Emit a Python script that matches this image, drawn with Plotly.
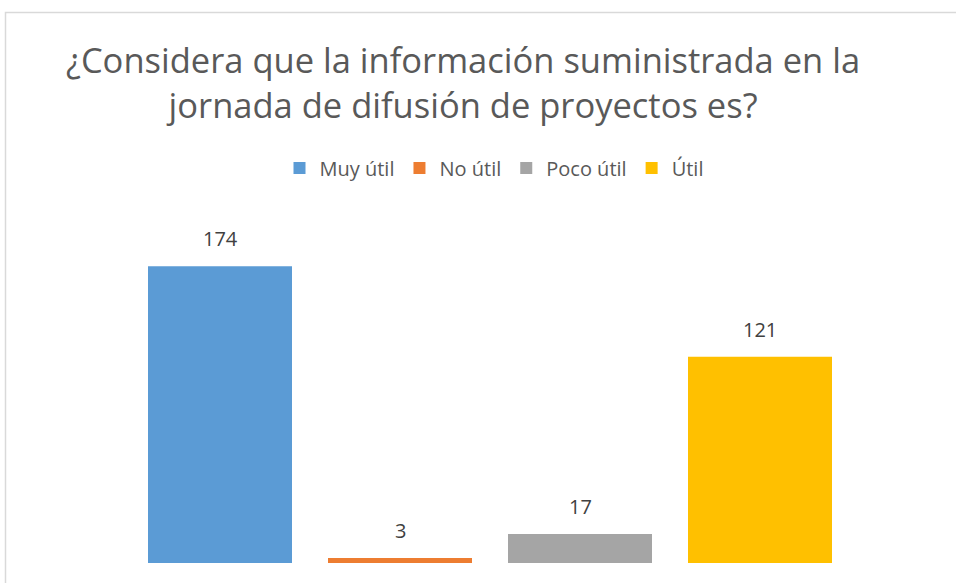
import plotly.graph_objects as go

categories = ["Muy útil", "No útil", "Poco útil", "Útil"]
values = [174, 3, 17, 121]
colors = ["#5B9BD5", "#ED7D31", "#A5A5A5", "#FFC000"]
title_text = "¿Considera que la información suministrada en la<br>jornada de difusión de proyectos es?"

FONT = "Open Sans"
W, H = 956, 583
ml, mr, mt, mb = 130, 106, 222, 20
PW, PH = W - ml - mr, H - mt - mb


def px_x(X):
    return (X - ml) / PW


def px_y(Y):
    return (H - mb - Y) / PH


fig = go.Figure()
for c, v, col in zip(categories, values, colors):
    fig.add_trace(go.Bar(x=[c], y=[v], name=c, marker=dict(color=col, line=dict(width=0)),
                         width=0.8, hoverinfo="skip"))

for c, v in zip(categories, values):
    fig.add_annotation(x=c, y=v, text=str(v), showarrow=False, yanchor="bottom", yshift=12,
                       font=dict(family=FONT, size=20, color="#404040"))

# title
fig.add_annotation(xref="paper", yref="paper", x=px_x(463), y=px_y(82), text=title_text,
                   showarrow=False, xanchor="center", yanchor="middle",
                   font=dict(family=FONT, size=34.5, color="#595959"))

# chart border (top and left visible)
fig.add_shape(type="rect", xref="paper", yref="paper",
              x0=px_x(5.5), x1=px_x(1100),
              y0=px_y(700), y1=px_y(12.5),
              line=dict(color="#D9D9D9", width=1.5), fillcolor="rgba(0,0,0,0)", layer="below")

fig.update_layout(
    width=W, height=H,
    margin=dict(l=ml, r=mr, t=mt, b=mb),
    paper_bgcolor="white", plot_bgcolor="white",
    barmode="overlay",
    showlegend=True,
    legend=dict(orientation="h", x=494 / W, xanchor="center", xref="container",
                y=1 - 168 / H, yanchor="middle", yref="container",
                font=dict(family=FONT, size=20, color="#595959"), traceorder="normal",
                itemwidth=30),
    xaxis=dict(visible=False, range=[-0.5, 3.5], categoryorder="array", categoryarray=categories),
    yaxis=dict(visible=False, range=[0, 200]),
)

fig.write_html("out.html", config={"displayModeBar": False},
               post_script="document.body.style.margin='0';")
